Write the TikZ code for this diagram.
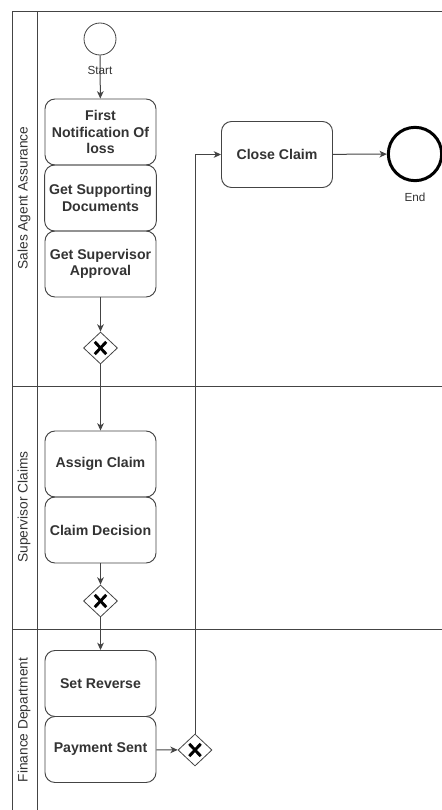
\documentclass[tikz,border=0pt]{standalone}
\usepackage{fontspec}
\setmainfont{Liberation Sans}
\usetikzlibrary{shapes.geometric, arrows.meta}

\definecolor{linegray}{HTML}{444444}
\definecolor{textgray}{HTML}{333333}

\tikzstyle{task} = [rectangle, rounded corners=7.5pt, minimum width=83.25pt, minimum height=49.5pt, align=center, draw=linegray, line width=0.7pt, text=textgray, font=\fontsize{10.6}{12.4}\selectfont\bfseries]
\tikzstyle{gateway} = [diamond, draw=linegray, line width=0.6pt, minimum width=25.5pt, minimum height=24pt, inner sep=0pt,
  path picture={
    \draw[line width=2.2pt, black] ([shift={(-4.3pt,-4.6pt)}]path picture bounding box.center) -- ([shift={(4.3pt,4.6pt)}]path picture bounding box.center);
    \draw[line width=2.2pt, black] ([shift={(-4.3pt,4.6pt)}]path picture bounding box.center) -- ([shift={(4.3pt,-4.6pt)}]path picture bounding box.center);}]
\tikzstyle{arrow} = [->, >={Stealth[length=5.5pt, width=5pt, inset=1.6pt]}, draw=linegray, line width = 0.75pt]
\tikzstyle{pool} = [draw=linegray, line width=0.7pt]
\tikzstyle{lanelabel} = [rotate=90, text=textgray, font=\fontsize{10.3}{12}\selectfont]
\tikzstyle{eventlabel} = [text=textgray, font=\fontsize{8.8}{10}\selectfont]

\begin{document}
\begin{tikzpicture}[x=0.75pt, y=-0.75pt, node distance=49.5pt]
		\useasboundingbox (0,0) rectangle (442,810);
		% Pool and lanes
		\draw [pool] (12,810) -- (12,11) -- (442,11);
		\draw [pool] (37,11) -- (37,810);
		\draw [pool] (12,386) -- (442,386);
		\draw [pool] (12,629) -- (442,629);
		\node (laneSales) [lanelabel] at (24,198) {Sales Agent Assurance};
		\node (laneSupervisor) [lanelabel] at (24,507) {Supervisor Claims};
		\node (laneFinance) [lanelabel] at (24,720) {Finance Department};
		% Nodes
		\node (start) [circle, draw=linegray, line width=0.6pt, minimum size=24pt, inner sep=0pt] at (100,39) {};
		\node (notify) [task] at (100.5,132) {First\\Notification Of\\loss};
		\node (documents) [task, below of=notify] {Get Supporting\\Documents};
		\node (approval) [task, below of=documents] {Get Supervisor\\Approval};
		\node (gw1) [gateway] at (100.5,348) {};
		\node (assign) [task] at (100.5,464) {Assign Claim};
		\node (decision) [task, below of=assign] {Claim Decision};
		\node (gw2) [gateway] at (100.5,601) {};
		\node (reverse) [task] at (100.5,683.5) {Set Reverse};
		\node (payment) [task, below of=reverse] {Payment Sent};
		\node (gw3) [gateway] at (195,750) {};
		\node (close) [task] at (277,154.5) {Close Claim};
		\node (end) [circle, draw=black, line width=2.25pt, minimum size=40pt, inner sep=0pt] at (415,154) {};
		% Arrows
		\draw [arrow] (start) -- (notify);
		\draw [arrow] (approval) -- (gw1);
		\draw [arrow] (gw1) -- (assign);
		\draw [arrow] (decision) -- (gw2);
		\draw [arrow] (gw2) -- (reverse);
		\draw [arrow] (payment) -- (gw3);
		\draw [arrow] (gw3) |- (close);
		\draw [arrow] (close) -- (end);
		% Labels
		\node (startLabel) [eventlabel] at (100,70) {Start};
		\node (endLabel) [eventlabel] at (415,197) {End};
	\end{tikzpicture}
\end{document}
